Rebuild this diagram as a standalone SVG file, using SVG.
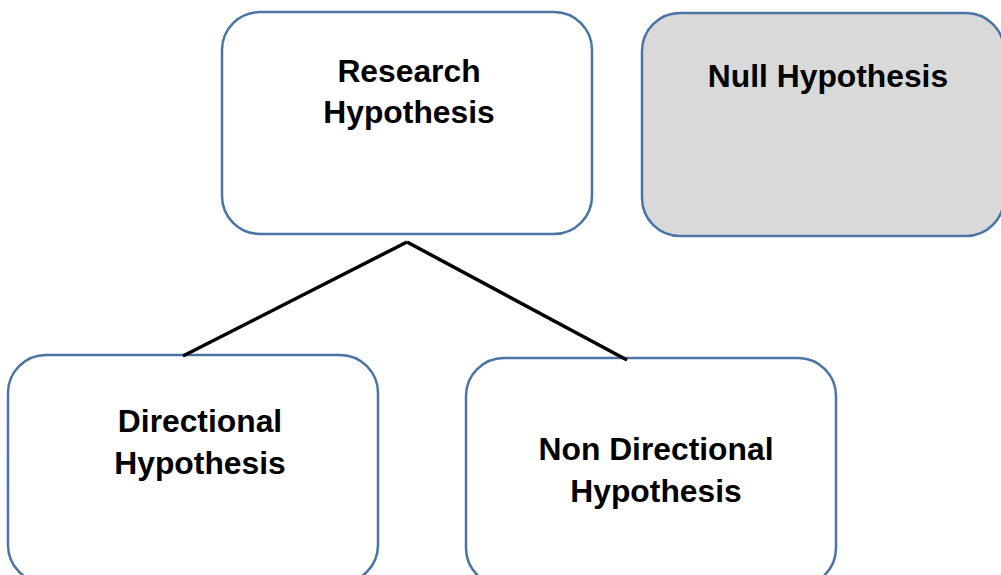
<svg xmlns="http://www.w3.org/2000/svg" width="1001" height="575" viewBox="0 0 1001 575">
<style>
.box{fill:#ffffff;stroke:#4a74a5;stroke-width:2.5}
.grey{fill:#d9d9d9}
.lbl{font-family:"Liberation Sans",Arial,sans-serif;font-weight:bold;font-size:31.8px;fill:#000;text-anchor:middle}
.conn{stroke:#000;stroke-width:3.5;fill:none}
</style>
<rect width="1001" height="575" fill="#ffffff"/>
<g id="research">
<rect class="box" x="222" y="12" width="370" height="222" rx="38"/>
<text class="lbl" x="409" y="82">Research</text>
<text class="lbl" x="409" y="123">Hypothesis</text>
</g>
<g id="null">
<rect class="box grey" x="642" y="13" width="362" height="223" rx="38"/>
<text class="lbl" x="828" y="87">Null Hypothesis</text>
</g>
<g id="directional">
<rect class="box" x="8" y="355" width="370" height="228" rx="38"/>
<text class="lbl" x="200" y="432">Directional</text>
<text class="lbl" x="200" y="474">Hypothesis</text>
</g>
<g id="nondirectional">
<rect class="box" x="466" y="358" width="370" height="228" rx="38"/>
<text class="lbl" x="656" y="460">Non Directional</text>
<text class="lbl" x="656" y="502">Hypothesis</text>
</g>
<g id="connectors">
<line class="conn" x1="407" y1="242" x2="183" y2="356"/>
<line class="conn" x1="407" y1="242" x2="627" y2="360"/>
</g>
</svg>
